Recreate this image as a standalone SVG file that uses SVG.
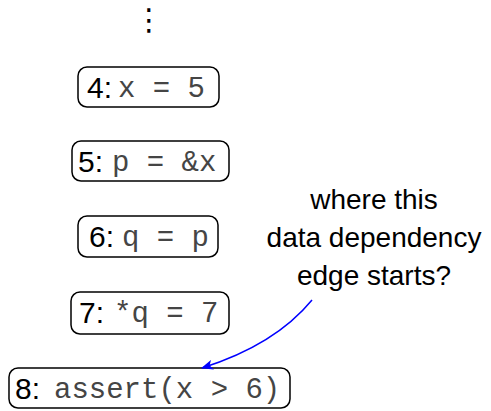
<svg xmlns="http://www.w3.org/2000/svg" width="491" height="411" viewBox="0 0 491 411">
<style>
.box{fill:#fff;stroke:#000;stroke-width:1.5}
.lbl{font-family:"Liberation Sans",Arial,sans-serif;font-size:30px;fill:#000}
.code{font-family:"Liberation Mono","Courier New",monospace;font-size:29px;fill:#454545}
.note{font-family:"Liberation Sans",Arial,sans-serif;font-size:28px;fill:#000;text-anchor:middle}
.dots{font-family:"DejaVu Sans",sans-serif;font-size:30px;fill:#000;text-anchor:middle}
</style>
<defs>
<marker id="ah" viewBox="0 0 12 10" refX="11" refY="5" markerWidth="12" markerHeight="10" markerUnits="userSpaceOnUse" orient="auto">
<path d="M0,0 L12,5 L0,10 L3,5 Z" fill="#0000ff"/>
</marker>
</defs>
<text class="dots" x="149" y="30">⋮</text>
<g id="n4">
<rect class="box" x="78" y="67" width="141" height="40" rx="9"/>
<text class="lbl" x="87" y="98">4:</text>
<text class="code" x="118" y="97">x = 5</text>
</g>
<g id="n5">
<rect class="box" x="72" y="141" width="157" height="40" rx="9"/>
<text class="lbl" x="78" y="172">5:</text>
<text class="code" x="112" y="171">p = &amp;x</text>
</g>
<g id="n6">
<rect class="box" x="78" y="216" width="140" height="41" rx="9"/>
<text class="lbl" x="89" y="247">6:</text>
<text class="code" x="122" y="246">q = p</text>
</g>
<g id="n7">
<rect class="box" x="71" y="292" width="158" height="42" rx="9"/>
<text class="lbl" x="79" y="323">7:</text>
<text class="code" x="114" y="322">*q = 7</text>
</g>
<g id="n8">
<rect class="box" x="9" y="368" width="281" height="40" rx="9"/>
<text class="lbl" x="15" y="399">8:</text>
<text class="code" x="54" y="398">assert(x &gt; 6)</text>
</g>
<g id="note">
<text class="note" x="374" y="209">where this</text>
<text class="note" x="374" y="247">data dependency</text>
<text class="note" x="374" y="285">edge starts?</text>
</g>
<g id="connectors">
<path d="M312,300 Q275,345 202,368" fill="none" stroke="#0000ff" stroke-width="1.5" marker-end="url(#ah)"/>
</g>
</svg>
